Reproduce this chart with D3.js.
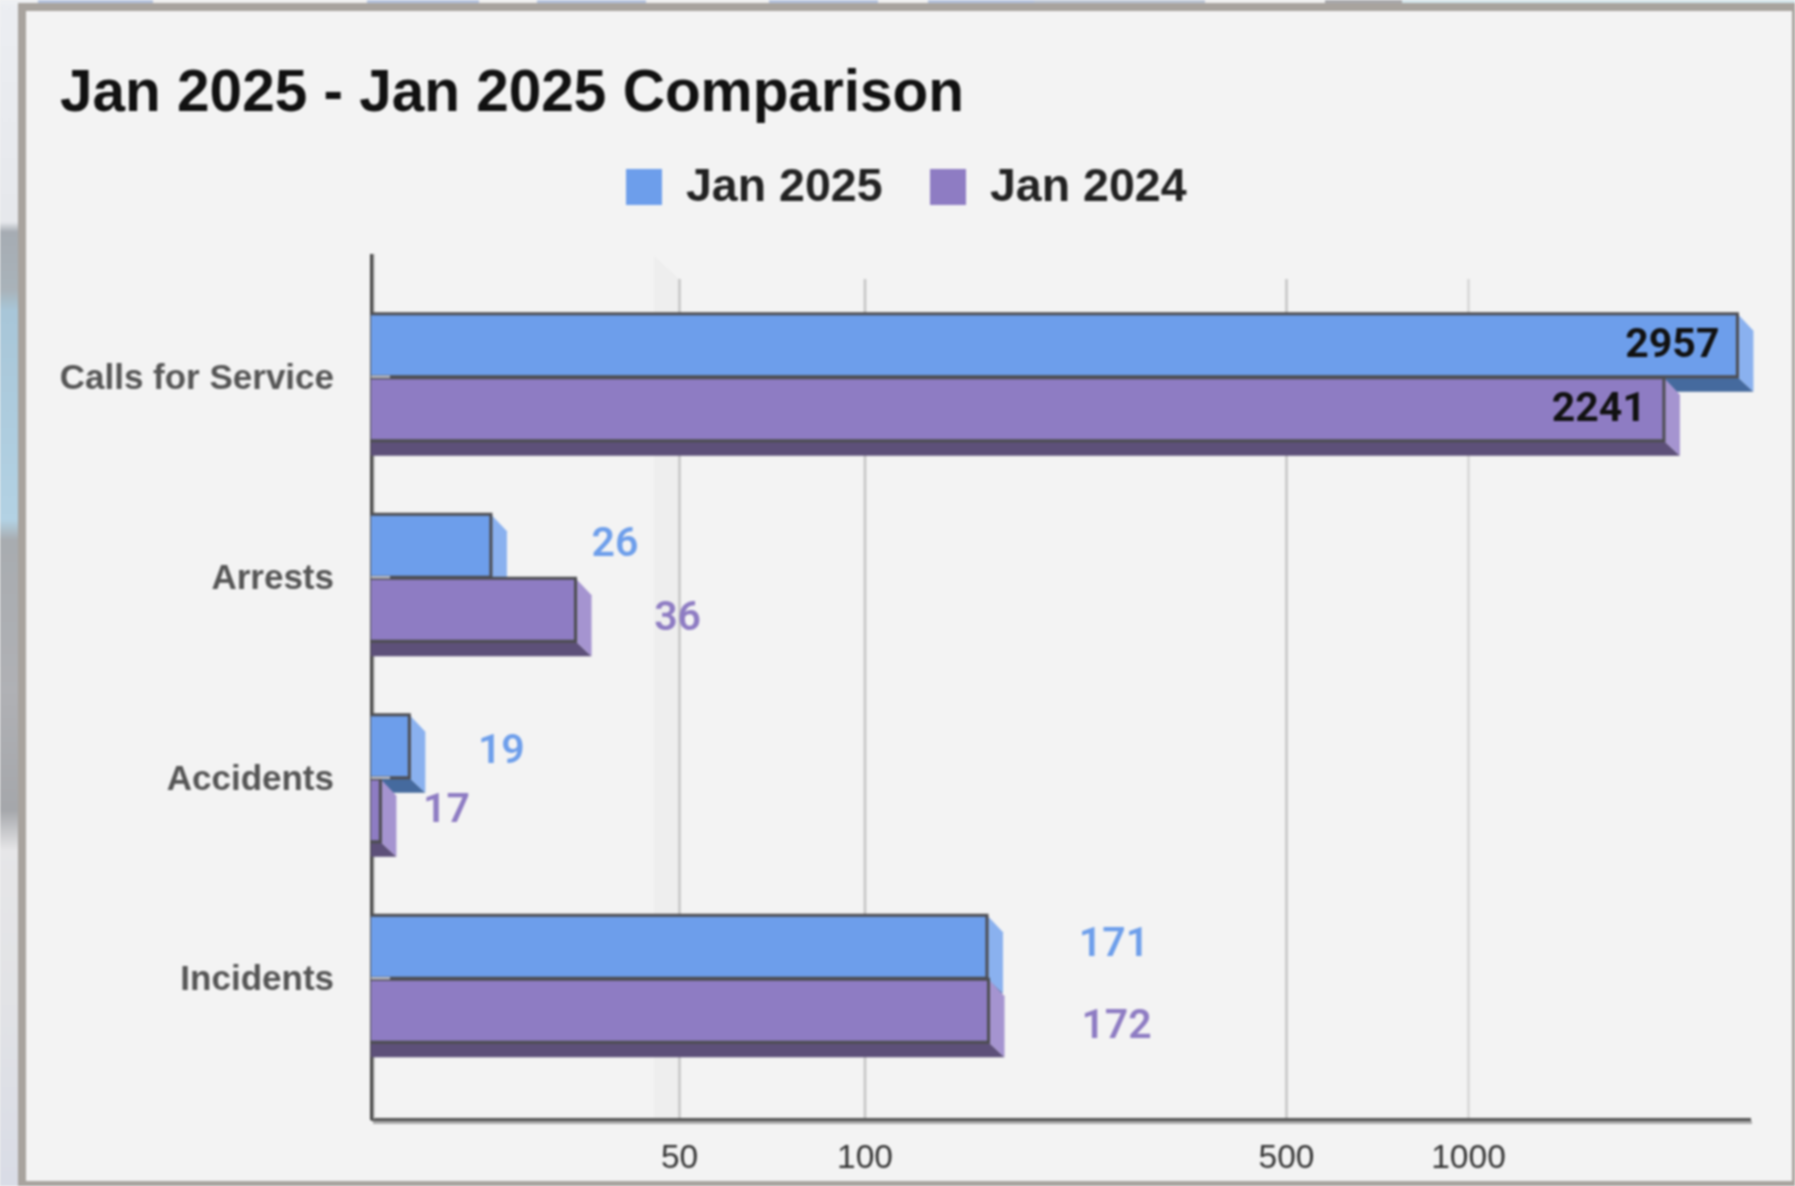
<!DOCTYPE html>
<html>
<head>
<meta charset="utf-8">
<script src="https://cdn.jsdelivr.net/npm/d3@7"></script>
<style>
  html, body { margin: 0; padding: 0; background: #f3f3f3; }
  svg { display: block; filter: blur(1px); }
  text { font-family: "Liberation Sans", Arial, sans-serif; }
</style>
</head>
<body>
<div id="plot_area"></div>
<script>
// chart values
const categories = ['Calls for Service', 'Arrests', 'Accidents', 'Incidents']
const seriesNames = ['Jan 2025', 'Jan 2024']
const jan2025 = [2957, 26, 19, 171]
const jan2024 = [2241, 36, 17, 172]
const tickValues = [50, 100, 500, 1000]
const titleText = 'Jan 2025 - Jan 2025 Comparison'

const svgWidth = 1795,
    svgHeight = 1186,
    depthX = 16,
    depthY = 17,
    axisX = 371,
    // bars sit in front of the back wall the gridlines are on
    wallOffset = 18

const blue = { front: '#6d9eeb', side: '#8ab1ef', under: '#456a9e' }
const purple = { front: '#8e7cc3', side: '#a594d0', under: '#5d5079' }

// the data labels are not placed evenly in the original, [dx, dy] per bar
const nudge2025 = [null, [124, 10], [92, 17], [127, 9]]
const nudge2024 = [null, [102, 20], [66, 12], [128, 27]]

const svg = d3.select('#plot_area').append('svg')
    .attr('width', svgWidth)
    .attr('height', svgHeight)

// --- what is left of the page behind the panel
const backdrop = svg.append('g')
backdrop.append('rect').attr('width', svgWidth).attr('height', svgHeight).attr('fill', '#f3f3f3')

const stripStops = [
    [0, '#eceef2'], [222, '#e6e8ec'], [232, '#a6acb3'], [290, '#a9b3ba'], [310, '#a8c6d8'],
    [520, '#b3d2e4'], [540, '#a8acb0'], [690, '#b0b1b5'], [810, '#a5a7ab'],
    [850, '#e6e6e8'], [1000, '#e2e3e6'], [1186, '#d9dce6']
]
const stripFill = svg.append('defs').append('linearGradient')
    .attr('id', 'stripFill')
    .attr('x1', 0).attr('x2', 0).attr('y1', 0).attr('y2', 1)
stripFill.selectAll('stop').data(stripStops).enter().append('stop')
    .attr('offset', d => d[0] / svgHeight)
    .attr('stop-color', d => d[1])
backdrop.append('rect')
    .attr('width', 20).attr('height', svgHeight)
    .attr('fill', 'url(#stripFill)')

const tabs = [
    [0, 38, '#eef0f3'], [38, 153, '#b4c3df'], [153, 367, '#f0f0f0'], [367, 479, '#b4c3df'],
    [479, 537, '#f0f0f0'], [537, 646, '#b4c3df'], [646, 769, '#f0f0f0'], [769, 878, '#b4c3df'],
    [878, 928, '#f0f0f0'], [928, 1034, '#b4c3df'], [1034, 1205, '#bcc6d6'], [1205, 1325, '#f0f0f0'],
    [1325, 1402, '#a8a8ac'], [1402, 1795, '#d5e6ec']
]
backdrop.selectAll('.tab').data(tabs).enter().append('rect')
    .attr('y', 0).attr('height', 5)
    .attr('x', d => d[0]).attr('width', d => d[1] - d[0])
    .attr('fill', d => d[2])

// panel border
svg.append('path')
    .attr('fill', '#a8a39e')
    .attr('fill-rule', 'evenodd')
    .attr('d', 'M18 3H1795V1186H18Z M26 11V1181H1792V11Z')

// --- scales, the original log axis is not quite even from tick to tick
const x = d3.scaleLog()
    .domain([15.3, 50, 100, 500, 1000, 2919])
    .range([axisX, 679, 864.5, 1286, 1468, 1752])
const y = d3.scaleBand().domain(categories).range([277.5, 1079.5])
const ySeries = d3.scaleBand().domain(seriesNames).range([-64, 64])
const barHeight = ySeries.bandwidth() - 1

const frontX = v => x(v) - wallOffset

// faint band left of the 50 line
svg.append('path')
    .attr('fill', '#eeeeee')
    .attr('d', `M${x(50) - 25} 256L${x(50)} 279V1119H${x(50) - 25}Z`)

// --- x axis with gridlines
const xAxis = svg.append('g')
    .attr('transform', 'translate(0, 1119)')
    .call(d3.axisBottom(x)
        .tickValues(tickValues)
        .tickFormat(d3.format('d'))
        .tickSizeInner(-840)
        .tickSizeOuter(0)
        .tickPadding(25))

xAxis.select('.domain').remove()
xAxis.selectAll('line')
    .attr('stroke', d => d == 1000 ? '#d6d6d6' : '#c4c4c4')
    .attr('stroke-width', 2.5)
xAxis.selectAll('text')
    .attr('font-size', 33.5)
    .attr('fill', '#333')

// axis lines and their grey shadow
svg.append('line').attr('x1', axisX + 2).attr('x2', 1752).attr('y1', 1122.5).attr('y2', 1122.5)
    .attr('stroke', '#aaa').attr('stroke-width', 3)
svg.append('line').attr('x1', axisX).attr('x2', 1751).attr('y1', 1119.5).attr('y2', 1119.5)
    .attr('stroke', '#555').attr('stroke-width', 3)

// --- y axis
const yAxis = svg.append('g')
    .attr('transform', `translate(${axisX + 1}, 0)`)
    .call(d3.axisLeft(y).tickSizeOuter(0).tickSizeInner(0).tickPadding(38))

yAxis.select('.domain').remove()
yAxis.selectAll('text')
    .attr('font-size', 35)
    .attr('font-weight', 700)
    .attr('fill', '#555')

svg.append('line').attr('x1', axisX + 2.5).attr('x2', axisX + 2.5).attr('y1', 254).attr('y2', 1119)
    .attr('stroke', '#aaa').attr('stroke-width', 2)
svg.append('line').attr('x1', axisX + .5).attr('x2', axisX + .5).attr('y1', 254).attr('y2', 1120)
    .attr('stroke', '#4a4a4a').attr('stroke-width', 3)

// --- 3d bars
function drawBars(values, name, colors) {
    const rows = values.map((v, i) => ({ v: v, cat: categories[i] }))
    const top = d => y(d.cat) + y.bandwidth() / 2 + ySeries(name)
    const bars = svg.append('g').selectAll('g').data(rows).enter().append('g')

    bars.append('path')
        .attr('fill', colors.under)
        .attr('d', d => `M${axisX} ${top(d) + barHeight}H${frontX(d.v)}L${frontX(d.v) + depthX} ${top(d) + barHeight + depthY - 2}H${axisX}Z`)
    bars.append('path')
        .attr('fill', colors.side)
        .attr('d', d => `M${frontX(d.v)} ${top(d)}L${frontX(d.v) + depthX} ${top(d) + depthY}V${top(d) + barHeight + depthY - 2}L${frontX(d.v)} ${top(d) + barHeight}Z`)
    bars.append('rect')
        .attr('x', axisX)
        .attr('y', top)
        .attr('width', d => frontX(d.v) - axisX)
        .attr('height', barHeight)
        .attr('fill', colors.front)
    // dark outline, open on the axis side
    bars.append('path')
        .attr('fill', 'none')
        .attr('stroke', '#4d4d52')
        .attr('stroke-width', 3)
        .attr('d', d => `M${axisX} ${top(d)}H${frontX(d.v)}V${top(d) + barHeight}H${axisX}`)
    // little light tick at the category centre
    bars.filter(() => name == seriesNames[1]).append('line')
        .attr('x1', axisX).attr('x2', axisX + 19)
        .attr('y1', d => top(d) - 1).attr('y2', d => top(d) - 1)
        .attr('stroke', '#cfcfd6')
        .attr('stroke-width', 2)
}

drawBars(jan2025, seriesNames[0], blue)
drawBars(jan2024, seriesNames[1], purple)

// --- data labels
function drawLabels(values, name, nudges, color) {
    const rows = values.map((v, i) => ({ v: v, cat: categories[i], nudge: nudges[i] }))
    const mid = d => y(d.cat) + y.bandwidth() / 2 + ySeries(name) + barHeight / 2
    svg.append('g').selectAll('text').data(rows).enter().append('text')
        .text(d => d.v)
        .attr('x', d => d.nudge ? frontX(d.v) + d.nudge[0] : frontX(d.v) - 18)
        .attr('y', d => mid(d) + (d.nudge ? d.nudge[1] : 12))
        .attr('text-anchor', d => d.nudge ? 'middle' : 'end')
        .attr('font-size', 41)
        .style('font-family', 'Roboto')
        .attr('font-weight', d => d.nudge ? 600 : 700)
        .attr('fill', d => d.nudge ? color : '#111')
}

drawLabels(jan2025, seriesNames[0], nudge2025, blue.front)
drawLabels(jan2024, seriesNames[1], nudge2024, purple.front)

// --- title and legend
svg.append('text')
    .attr('x', 60)
    .attr('y', 111)
    .attr('font-size', 58.5)
    .attr('font-weight', 700)
    .attr('fill', '#111')
    .text(titleText)

const legendX = d3.scaleOrdinal().domain(seriesNames).range([626, 930])
const legend = svg.append('g').selectAll('g').data(seriesNames).enter().append('g')
    .attr('transform', d => `translate(${legendX(d)}, 169)`)

legend.append('rect')
    .attr('width', 36)
    .attr('height', 36)
    .attr('fill', (d, i) => i == 0 ? blue.front : purple.front)

legend.append('text')
    .attr('x', 60)
    .attr('y', 32)
    .attr('font-size', 46.5)
    .attr('font-weight', 700)
    .attr('fill', '#222')
    .text(d => d)
</script>
</body>
</html>
